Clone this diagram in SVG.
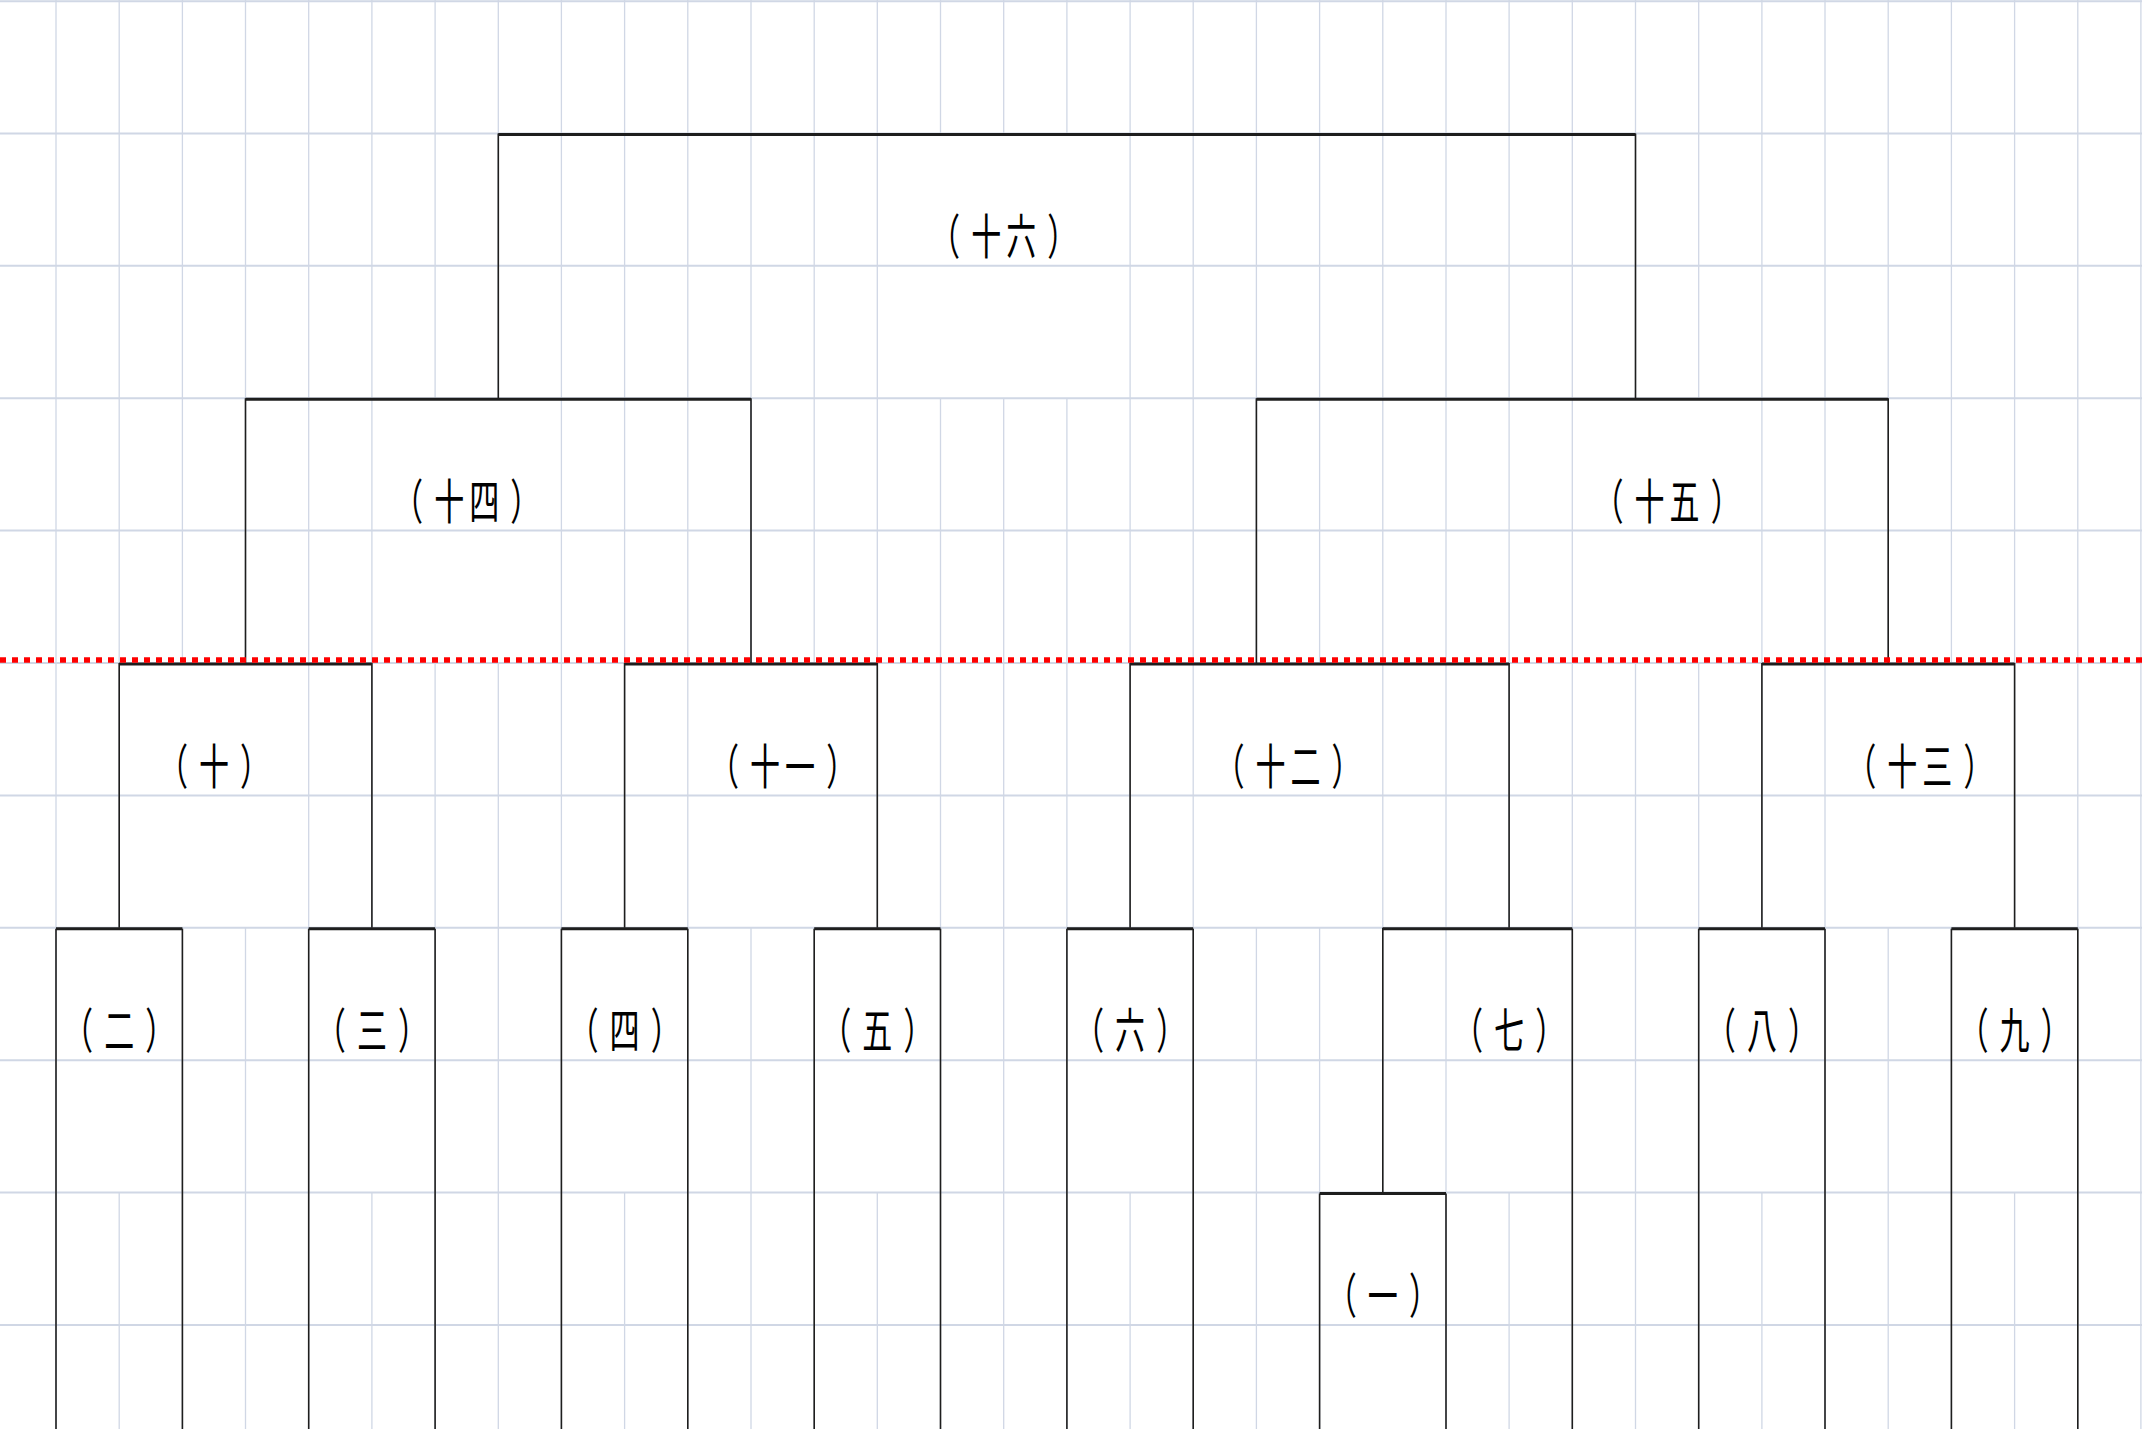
<svg xmlns="http://www.w3.org/2000/svg" width="2142" height="1429" viewBox="0 0 2142 1429">
<style>
.grid{stroke:#d0d7e5;stroke-width:1.3;fill:none}
.gridh{stroke:#d0d7e5;stroke-width:2;fill:none}
.top{stroke:#1e1e1e;stroke-width:3;fill:none}
.side{stroke:#1e1e1e;stroke-width:1.6;fill:none}
.pb{stroke:#ff0000;stroke-width:5.5;stroke-dasharray:6 6;fill:none}
.lbl{font-family:"Noto Sans CJK JP","Noto Sans CJK SC",sans-serif;font-size:30px;fill:#000;text-anchor:middle}
</style>
<rect width="2142" height="1429" fill="#ffffff"/>
<g id="grid">
<path class="gridh" d="M0 1.2H2142 M0 133.4H2142 M0 265.8H2142 M0 398.2H2142 M0 530.6H2142 M0 663H2142 M0 795.4H2142 M0 927.8H2142 M0 1060.2H2142 M0 1192.6H2142 M0 1325H2142"/>
<path class="grid" d="M56 0V1429 M308.7 0V1429 M561.4 0V1429 M687.8 0V1429 M1193.2 0V1429 M1446 0V1429 M1572.3 0V1429 M1825 0V1429 M2077.8 0V1429 M2140.9 0V1429
M940.5 0V133.4M940.5 398.2V1429 M1003.7 0V133.4M1003.7 398.2V1429 M1066.9 0V133.4M1066.9 398.2V1429
M435.1 0V398.2M435.1 663V1429 M498.3 0V398.2M498.3 663V1429 M1635.5 0V398.2M1635.5 663V1429 M1698.7 0V398.2M1698.7 663V1429
M182.4 0V663M182.4 927.8V1429 M245.5 0V663M245.5 927.8V1429 M751 0V663M751 927.8V1429 M814.2 0V663M814.2 927.8V1429 M1256.4 0V663M1256.4 927.8V1429 M1319.6 0V663M1319.6 927.8V1429 M1888.2 0V663M1888.2 927.8V1429 M1951.4 0V663M1951.4 927.8V1429
M119.2 0V927.8M119.2 1192.6V1429 M371.9 0V927.8M371.9 1192.6V1429 M624.6 0V927.8M624.6 1192.6V1429 M877.3 0V927.8M877.3 1192.6V1429 M1130.1 0V927.8M1130.1 1192.6V1429 M1509.1 0V927.8M1509.1 1192.6V1429 M1761.9 0V927.8M1761.9 1192.6V1429 M2014.6 0V927.8M2014.6 1192.6V1429
M1382.8 0V1192.6"/>
</g>
<g id="connectors">
<path class="side" d="M498.3 133.4V398.2 M1635.5 133.4V398.2
M245.5 398.2V663 M751 398.2V663 M1256.4 398.2V663 M1888.2 398.2V663
M119.2 663V927.8 M371.9 663V927.8 M624.6 663V927.8 M877.3 663V927.8 M1130.1 663V927.8 M1509.1 663V927.8 M1761.9 663V927.8 M2014.6 663V927.8
M1382.8 927.8V1192.6"/>
</g>
<g id="n16"><path class="top" d="M498.3 134.4H1635.5"/><text class="lbl" x="945.1 986.2 1021.2 1062.3" y="0" transform="translate(0 254) scale(1 1.6)">（十六）</text></g>
<g id="n14"><path class="top" d="M245.5 399.2H751"/><text class="lbl" x="408.1 449.2 484.2 525.3" y="0" transform="translate(0 518.8) scale(1 1.6)">（十四）</text></g>
<g id="n15"><path class="top" d="M1256.4 399.2H1888.2"/><text class="lbl" x="1608.5 1649.6 1684.6 1725.7" y="0" transform="translate(0 518.8) scale(1 1.6)">（十五）</text></g>
<g id="n10"><path class="top" d="M119.2 664H371.9"/><text class="lbl" x="172.9 214 255.1" y="0" transform="translate(0 783.6) scale(1 1.6)">（十）</text></g>
<g id="n11"><path class="top" d="M624.6 664H877.3"/><text class="lbl" x="724 765.1 800.1 841.2" y="0" transform="translate(0 783.6) scale(1 1.6)">（十一）</text></g>
<g id="n12"><path class="top" d="M1130.1 664H1509.1"/><text class="lbl" x="1229.4 1270.5 1305.5 1346.6" y="0" transform="translate(0 783.6) scale(1 1.6)">（十二）</text></g>
<g id="n13"><path class="top" d="M1761.9 664H2014.6"/><text class="lbl" x="1861.2 1902.3 1937.3 1978.4" y="0" transform="translate(0 783.6) scale(1 1.6)">（十三）</text></g>
<g id="n2"><path class="top" d="M56 928.8H182.4"/><path class="side" d="M56 928.8V1429 M182.4 928.8V1429"/><text class="lbl" x="78.1 119.2 160.3" y="0" transform="translate(0 1048.4) scale(1 1.6)">（二）</text></g>
<g id="n3"><path class="top" d="M308.7 928.8H435.1"/><path class="side" d="M308.7 928.8V1429 M435.1 928.8V1429"/><text class="lbl" x="330.8 371.9 413" y="0" transform="translate(0 1048.4) scale(1 1.6)">（三）</text></g>
<g id="n4"><path class="top" d="M561.4 928.8H687.8"/><path class="side" d="M561.4 928.8V1429 M687.8 928.8V1429"/><text class="lbl" x="583.5 624.6 665.7" y="0" transform="translate(0 1048.4) scale(1 1.6)">（四）</text></g>
<g id="n5"><path class="top" d="M814.2 928.8H940.5"/><path class="side" d="M814.2 928.8V1429 M940.5 928.8V1429"/><text class="lbl" x="836.2 877.3 918.4" y="0" transform="translate(0 1048.4) scale(1 1.6)">（五）</text></g>
<g id="n6"><path class="top" d="M1066.9 928.8H1193.2"/><path class="side" d="M1066.9 928.8V1429 M1193.2 928.8V1429"/><text class="lbl" x="1089 1130.1 1171.2" y="0" transform="translate(0 1048.4) scale(1 1.6)">（六）</text></g>
<g id="n7"><path class="top" d="M1382.8 928.8H1572.3"/><path class="side" d="M1572.3 928.8V1429"/><text class="lbl" x="1468 1509.1 1550.2" y="0" transform="translate(0 1048.4) scale(1 1.6)">（七）</text></g>
<g id="n8"><path class="top" d="M1698.7 928.8H1825"/><path class="side" d="M1698.7 928.8V1429 M1825 928.8V1429"/><text class="lbl" x="1720.8 1761.9 1803" y="0" transform="translate(0 1048.4) scale(1 1.6)">（八）</text></g>
<g id="n9"><path class="top" d="M1951.4 928.8H2077.8"/><path class="side" d="M1951.4 928.8V1429 M2077.8 928.8V1429"/><text class="lbl" x="1973.5 2014.6 2055.7" y="0" transform="translate(0 1048.4) scale(1 1.6)">（九）</text></g>
<g id="n1"><path class="top" d="M1319.6 1193.6H1446"/><path class="side" d="M1319.6 1193.6V1429 M1446 1193.6V1429"/><text class="lbl" x="1341.7 1382.8 1423.9" y="0" transform="translate(0 1313.2) scale(1 1.6)">（一）</text></g>
<path id="page-break" class="pb" d="M0 660H2142"/>
</svg>
